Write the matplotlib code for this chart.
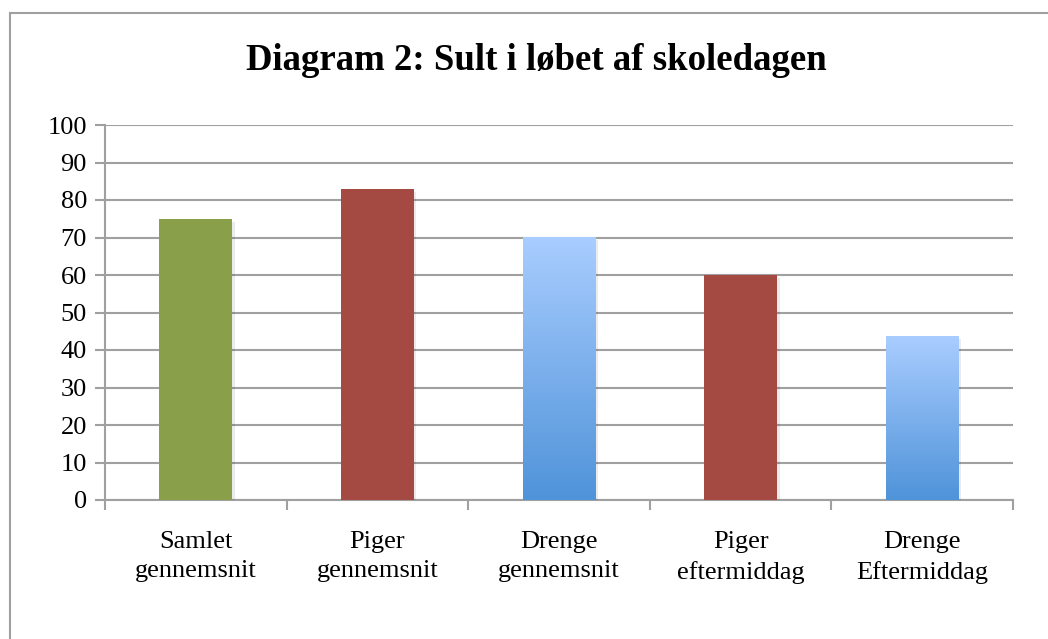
import numpy as np
import matplotlib.pyplot as plt
from matplotlib.patches import Rectangle
import matplotlib.patheffects as pe
from matplotlib.colors import LinearSegmentedColormap

# data
categories = ['Samlet\ngennemsnit', 'Piger\ngennemsnit', 'Drenge\ngennemsnit',
              'Piger\neftermiddag', 'Drenge\nEftermiddag']
values = [75, 83, 70, 60, 43.7]
fills = ['#8A9F4A', '#A54A43', 'gradient', '#A54A43', 'gradient']

grid_col = '#A0A0A0'
plt.rcParams['font.family'] = ['Liberation Serif', 'DejaVu Serif']

fig = plt.figure(figsize=(10.48, 6.39), dpi=100)
ax = fig.add_axes([105 / 1048, 1 - 500 / 639, (1013 - 105) / 1048, 375 / 639])

# outer chart frame (runs off right/bottom edge as in the original)
fig.patches.append(Rectangle((10 / 1048, -0.05), 1.1, 1 - 13 / 639 + 0.05,
                             transform=fig.transFigure, fill=False,
                             edgecolor=grid_col, linewidth=1.5, zorder=0))

x = np.arange(len(categories))
shadow = [pe.SimplePatchShadow(offset=(2, -2), shadow_rgbFace='#000000', alpha=0.08), pe.Normal()]
bars = ax.bar(x, values, width=0.4, zorder=3,
              color=[c if c != 'gradient' else 'none' for c in fills])
for b in bars:
    b.set_path_effects(shadow)

blue = LinearSegmentedColormap.from_list('blue', ['#4F93D9', '#A9CDFF'])
grad = np.linspace(0, 1, 256).reshape(-1, 1)
for b, c in zip(bars, fills):
    if c == 'gradient':
        b.set_facecolor('#7FB0EC')
        x0, w, h = b.get_x(), b.get_width(), b.get_height()
        ax.imshow(grad, cmap=blue, origin='lower', aspect='auto',
                  extent=(x0, x0 + w, 0, h), zorder=4)

ax.set_xlim(-0.5, len(categories) - 0.5)
ax.set_ylim(0, 100)
ax.set_yticks(range(0, 101, 10))
ax.yaxis.grid(True, color=grid_col, linewidth=1.5, zorder=1)
ax.set_axisbelow(True)

ax.set_xticks(x)
ax.set_xticklabels(categories, fontsize=19, linespacing=1.45)
ax.set_xticks(np.arange(-0.5, len(categories), 1), minor=True)
ax.tick_params(axis='x', which='major', length=0, pad=22)
ax.tick_params(axis='x', which='minor', length=7, width=1.5, color=grid_col)
ax.tick_params(axis='y', length=7, width=1.5, color=grid_col, labelsize=19, pad=6)

for s in ['top', 'right']:
    ax.spines[s].set_visible(False)
for s in ['left', 'bottom']:
    ax.spines[s].set_color(grid_col)
    ax.spines[s].set_linewidth(1.5)

fig.text(536 / 1048, 1 - 61 / 639, 'Diagram 2: Sult i løbet af skoledagen',
         ha='center', va='center', fontsize=26.5, fontweight='bold')

fig.savefig('out.png', dpi=100)
